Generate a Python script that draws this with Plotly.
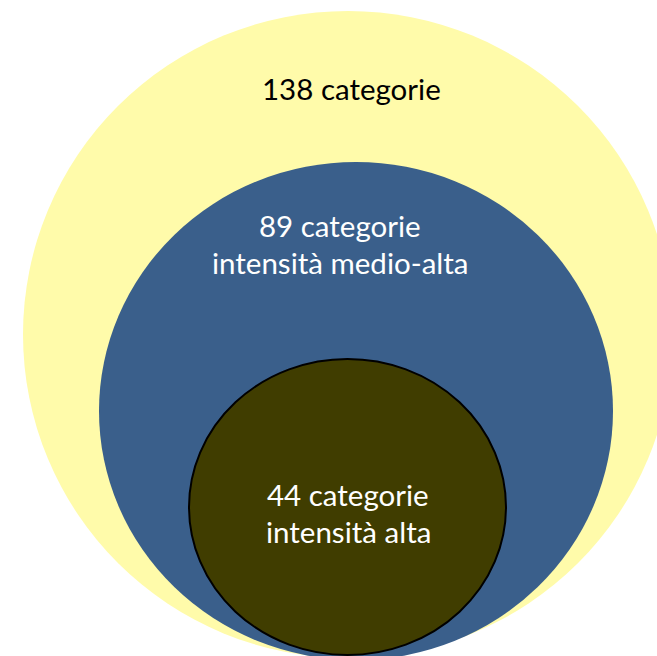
import plotly.graph_objects as go

# Nested sets: total categories, medium-high intensity, high intensity
counts = [138, 89, 44]
subtitles = ["", "intensità medio-alta", "intensità alta"]
fill_colors = ["#FFFBAA", "#3A5F8B", "#403D00"]
text_colors = ["#000000", "#FFFFFF", "#FFFFFF"]

# Ellipse bounds (x0, x1, y0, y1) in canvas units, outer to inner
bounds = [
    (23, 673, 11, 658),
    (99, 613, 162, 660),
    (189, 506, 359, 655),
]
outlines = [None, None, ("#000000", 2)]

# Label anchor (x, y of first line) for each set
label_pos = [(351, 88), (340, 225), (348, 494)]
line_gap = 37

W, H = 657, 656

fig = go.Figure()

shapes = []
for (x0, x1, y0, y1), color, outline in zip(bounds, fill_colors, outlines):
    line = dict(width=0) if outline is None else dict(color=outline[0], width=outline[1])
    shapes.append(dict(type="circle", xref="x", yref="y",
                       x0=x0, x1=x1, y0=y0, y1=y1,
                       fillcolor=color, line=line, layer="above"))

annotations = []
for n, sub, tc, (lx, ly) in zip(counts, subtitles, text_colors, label_pos):
    lines = [f"{n} categorie"] + ([sub] if sub else [])
    for i, txt in enumerate(lines):
        annotations.append(dict(x=lx, y=ly + i * line_gap, xref="x", yref="y",
                                text=txt, showarrow=False,
                                xanchor="center", yanchor="middle",
                                font=dict(family="Lato", size=29.5, color=tc)))

fig.update_layout(
    width=W, height=H,
    margin=dict(l=0, r=0, t=0, b=0),
    paper_bgcolor="white", plot_bgcolor="white",
    xaxis=dict(range=[0, W], visible=False, fixedrange=True),
    yaxis=dict(range=[H, 0], visible=False, fixedrange=True),
    shapes=shapes, annotations=annotations,
    showlegend=False,
)

fig.write_html("out.html", config={"displayModeBar": False})
